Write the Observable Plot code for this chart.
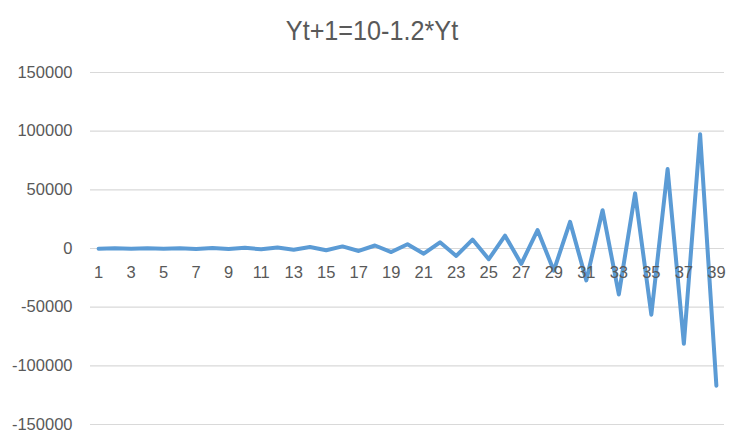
<!DOCTYPE html>
<html>
<head>
<meta charset="utf-8">
<script src="https://cdn.jsdelivr.net/npm/d3@7"></script>
<script src="https://cdn.jsdelivr.net/npm/@observablehq/plot@0.6"></script>
<style>
  html, body { margin: 0; padding: 0; background: #fff; }
  #wrap { width: 744px; height: 447px; position: relative; overflow: hidden; }
  #title { height: 52px; position: relative; }
  #title span { position: absolute; left: 372px; top: 31px; transform: translate(-50%, -50%) scaleX(0.9); white-space: nowrap;
    font-family: "Liberation Sans Narrow", "Liberation Sans", sans-serif; font-size: 28px; color: #595959; }
</style>
</head>
<body>
<div id="wrap">
  <div id="title"><span id="titleText"></span></div>
  <div id="chart"></div>
</div>
<script>
const title = "Yt+1=10-1.2*Yt";
const periods = d3.range(1, 40);
const values = [
  -110, 142, -160, 202, -233, 290, -337, 415, -488, 596,
  -705, 856, -1017, 1230, -1466, 1769, -2113, 2546, -3045, 3664,
  -4387, 5274, -6319, 7593, -9101, 10932, -13108, 15740, -18878, 22663,
  -27186, 32633, -39150, 46990, -56377, 67663, -81185, 97433, -116909
];
const yTicks = [-150000, -100000, -50000, 0, 50000, 100000, 150000];
const xTickLabels = periods.filter(p => p % 2 === 1);

document.getElementById("titleText").textContent = title;

const data = periods.map((p, i) => ({ t: p, y: values[i] }));
const font = '"Liberation Sans", sans-serif';

const chart = Plot.plot({
  width: 744,
  height: 395,
  marginTop: 20,
  marginBottom: 23,
  marginLeft: 90,
  marginRight: 20,
  style: { fontFamily: font, fontSize: "16px", color: "#595959", background: "#fff" },
  x: { domain: [0.5, 39.5], axis: null },
  y: { domain: [-150000, 150000], axis: null },
  marks: [
    Plot.ruleY(yTicks, { stroke: "#d9d9d9", strokeWidth: 1.2 }),
    Plot.text(yTicks, { x: 0.5, y: d => d, text: d => String(d), textAnchor: "end", dx: -18, fill: "#595959", fontSize: 16.5 }),
    Plot.line(data, { x: "t", y: "y", stroke: "#5b9bd5", strokeWidth: 4, strokeLinejoin: "round", strokeLinecap: "round" }),
    Plot.text(xTickLabels, { x: d => d, y: 0, text: d => String(d), dy: 24, fill: "#595959", fontSize: 16.5 })
  ]
});
document.getElementById("chart").appendChild(chart);
</script>
</body>
</html>
